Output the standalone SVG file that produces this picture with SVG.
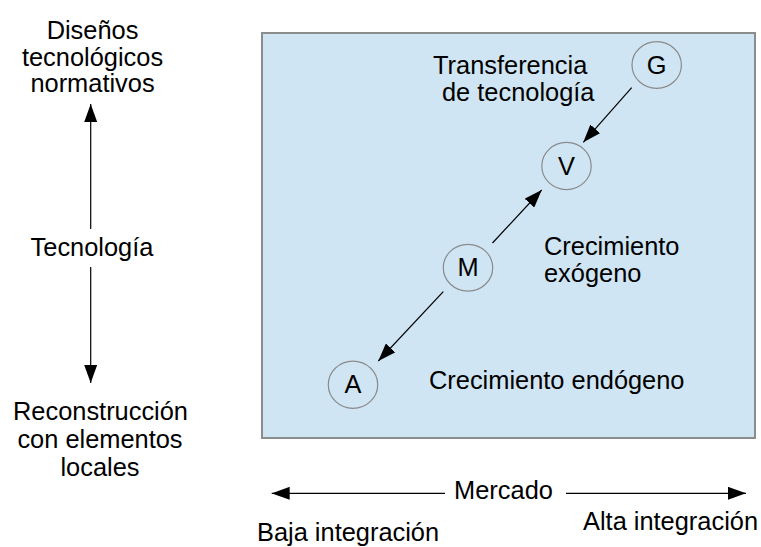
<svg xmlns="http://www.w3.org/2000/svg" width="761" height="547" viewBox="0 0 761 547">
<defs>
<marker id="ah" markerUnits="userSpaceOnUse" markerWidth="18" markerHeight="13" refX="18" refY="6.5" orient="auto">
<path d="M0,0 L18,6.5 L0,13 z" fill="#000"/>
</marker>
<style>
text{font-family:"Liberation Sans",Arial,sans-serif;font-size:25.4px;fill:#000}
.c{text-anchor:middle}
.node ellipse{fill:none;stroke:#8a8a8a;stroke-width:1.2}
.conn line{stroke:#000;stroke-width:1.2;fill:none}
</style>
</defs>
<rect width="761" height="547" fill="#fff"/>
<g id="panel">
<rect x="262" y="33" width="493" height="405" fill="#cfe5f3" stroke="#8c8c8c" stroke-width="2"/>
</g>
<g id="node-G" class="node"><ellipse cx="656.7" cy="65" rx="24.7" ry="23.4"/><text class="c" x="656.7" y="74">G</text></g>
<g id="node-V" class="node"><ellipse cx="566.5" cy="166" rx="24.7" ry="23.6"/><text class="c" x="566.5" y="175">V</text></g>
<g id="node-M" class="node"><ellipse cx="468" cy="267.7" rx="24.7" ry="23.4"/><text class="c" x="468" y="276">M</text></g>
<g id="node-A" class="node"><ellipse cx="353" cy="384.7" rx="24.7" ry="23.6"/><text class="c" x="353" y="393">A</text></g>
<g id="labels">
<text x="433" y="74">Transferencia</text>
<text x="442" y="101">de tecnología</text>
<text x="544" y="255">Crecimiento</text>
<text x="544" y="282">exógeno</text>
<text x="429" y="389">Crecimiento endógeno</text>
<text class="c" x="92.5" y="39">Diseños</text>
<text class="c" x="92.5" y="66">tecnológicos</text>
<text class="c" x="92.5" y="92">normativos</text>
<text class="c" x="92" y="256">Tecnología</text>
<text class="c" x="100.5" y="420">Reconstrucción</text>
<text class="c" x="100" y="448">con elementos</text>
<text class="c" x="100" y="476">locales</text>
<text class="c" x="503.5" y="499">Mercado</text>
<text x="257" y="541">Baja integración</text>
<text x="583" y="530">Alta integración</text>
</g>
<g id="connectors" class="conn">
<line x1="631.7" y1="87.7" x2="583.3" y2="142.3" marker-end="url(#ah)"/>
<line x1="492.5" y1="243" x2="541.7" y2="190" marker-end="url(#ah)"/>
<line x1="443.3" y1="291.7" x2="378.3" y2="361" marker-end="url(#ah)"/>
<line x1="90.7" y1="229" x2="90.7" y2="104" marker-end="url(#ah)"/>
<line x1="90.7" y1="267" x2="90.7" y2="383" marker-end="url(#ah)"/>
<line x1="445" y1="493.3" x2="271.7" y2="493.3" marker-end="url(#ah)"/>
<line x1="566" y1="493.3" x2="746" y2="493.3" marker-end="url(#ah)"/>
</g>
</svg>
